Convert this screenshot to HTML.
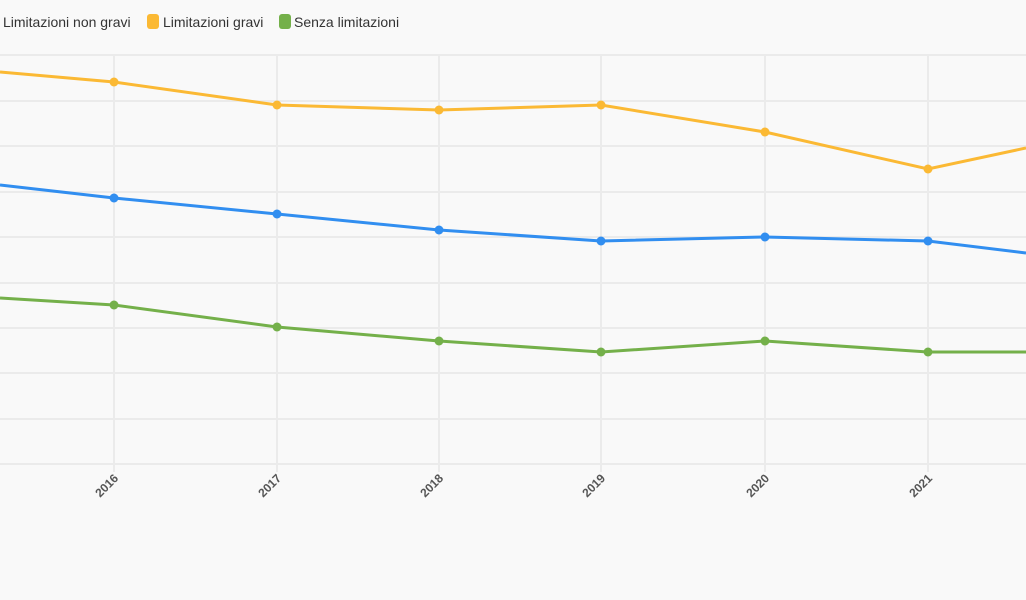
<!DOCTYPE html>
<html><head><style>
html,body{margin:0;padding:0;background:#f9f9f9;}
svg{display:block;font-family:"Liberation Sans",sans-serif;}
</style></head><body>
<svg width="1026" height="600" viewBox="0 0 1026 600">
<rect width="1026" height="600" fill="#f9f9f9"/>
<g stroke="#ebebeb" stroke-width="2">
<line x1="0" y1="55" x2="1026" y2="55"/><line x1="0" y1="101" x2="1026" y2="101"/>
<line x1="0" y1="146" x2="1026" y2="146"/><line x1="0" y1="192" x2="1026" y2="192"/>
<line x1="0" y1="237" x2="1026" y2="237"/><line x1="0" y1="283" x2="1026" y2="283"/>
<line x1="0" y1="328" x2="1026" y2="328"/><line x1="0" y1="373" x2="1026" y2="373"/>
<line x1="0" y1="419" x2="1026" y2="419"/><line x1="0" y1="464" x2="1026" y2="464"/>
<line x1="114" y1="55" x2="114" y2="472"/><line x1="277" y1="55" x2="277" y2="472"/>
<line x1="439" y1="55" x2="439" y2="472"/><line x1="601" y1="55" x2="601" y2="472"/>
<line x1="765" y1="55" x2="765" y2="472"/><line x1="928" y1="55" x2="928" y2="472"/>
</g>
<g fill="none" stroke-width="3">
<polyline stroke="#fbb934" points="0,72 114,82 277,105 439,110 601,105 765,132 928,169 1026,148"/>
<polyline stroke="#318ef0" points="0,185 114,198 277,214 439,230 601,241 765,237 928,241 1026,253"/>
<polyline stroke="#74b04a" points="0,298 114,305 277,327 439,341 601,352 765,341 928,352 1026,352"/>
</g>
<g fill="#fbb934"><circle cx="114" cy="82" r="4.5"/><circle cx="277" cy="105" r="4.5"/><circle cx="439" cy="110" r="4.5"/><circle cx="601" cy="105" r="4.5"/><circle cx="765" cy="132" r="4.5"/><circle cx="928" cy="169" r="4.5"/></g>
<g fill="#318ef0"><circle cx="114" cy="198" r="4.5"/><circle cx="277" cy="214" r="4.5"/><circle cx="439" cy="230" r="4.5"/><circle cx="601" cy="241" r="4.5"/><circle cx="765" cy="237" r="4.5"/><circle cx="928" cy="241" r="4.5"/></g>
<g fill="#74b04a"><circle cx="114" cy="305" r="4.5"/><circle cx="277" cy="327" r="4.5"/><circle cx="439" cy="341" r="4.5"/><circle cx="601" cy="352" r="4.5"/><circle cx="765" cy="341" r="4.5"/><circle cx="928" cy="352" r="4.5"/></g>
<g font-size="12" font-weight="bold" fill="#555" text-anchor="end">
<text transform="translate(119,479) rotate(-45)">2016</text>
<text transform="translate(282,479) rotate(-45)">2017</text>
<text transform="translate(444,479) rotate(-45)">2018</text>
<text transform="translate(606,479) rotate(-45)">2019</text>
<text transform="translate(770,479) rotate(-45)">2020</text>
<text transform="translate(933,479) rotate(-45)">2021</text>
</g>
<g font-size="14" fill="#333">
<text x="3" y="27">Limitazioni non gravi</text>
<rect x="147" y="14" width="12" height="15" rx="3" fill="#fbb934"/>
<text x="163" y="27">Limitazioni gravi</text>
<rect x="279" y="14" width="12" height="15" rx="3" fill="#74b04a"/>
<text x="294" y="27">Senza limitazioni</text>
</g>
</svg>
</body></html>
